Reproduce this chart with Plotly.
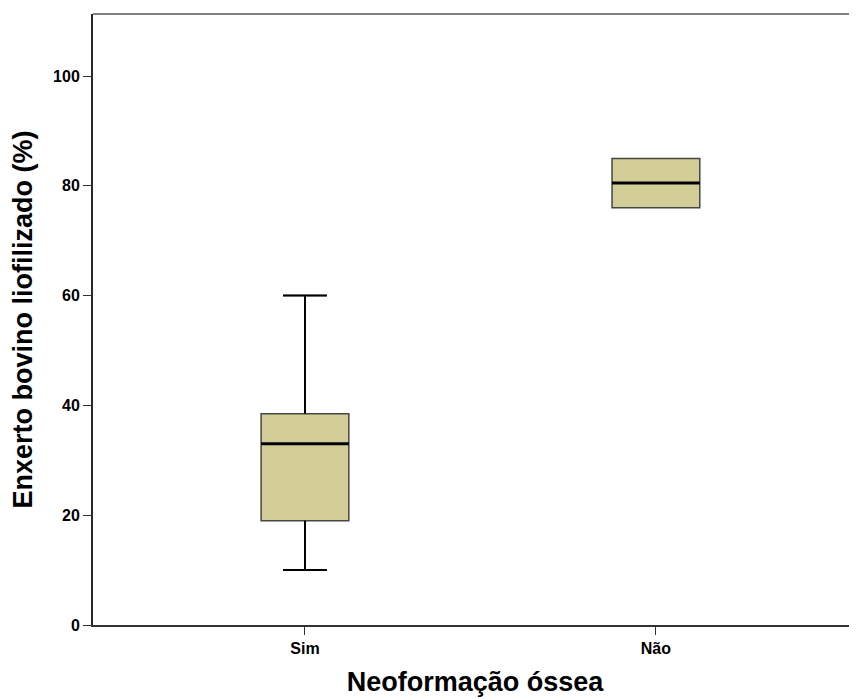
import plotly.graph_objects as go

categories = ["Sim", "Não"]
q1 = [19, 76]
median = [33, 80.5]
q3 = [38.5, 85]
lower = [10, 76]
upper = [60, 85]
y_ticks = [0, 20, 40, 60, 80, 100]

FONT = "Liberation Sans, Arial, sans-serif"
fill = "rgb(211,206,152)"
edge = "rgb(70,70,70)"
box_w = 0.25

xpos = list(range(len(categories)))

fig = go.Figure()
fig.add_trace(go.Box(
    x=xpos, q1=q1, median=median, q3=q3,
    lowerfence=lower, upperfence=upper,
    width=box_w, whiskerwidth=0.5,
    fillcolor=fill, line=dict(color=edge, width=1.5),
    boxpoints=False, showlegend=False, hoverinfo="skip",
))
for i, m in zip(xpos, median):
    fig.add_trace(go.Scatter(
        x=[i - box_w / 2, i + box_w / 2], y=[m, m], mode="lines",
        line=dict(color="black", width=3), showlegend=False, hoverinfo="skip",
    ))
for i, lo, a, b, hi in zip(xpos, lower, q1, q3, upper):
    if hi > b:
        fig.add_trace(go.Scatter(x=[i, i], y=[b, hi], mode="lines",
                                 line=dict(color="black", width=2), showlegend=False, hoverinfo="skip"))
        fig.add_trace(go.Scatter(x=[i - box_w / 4, i + box_w / 4], y=[hi, hi], mode="lines",
                                 line=dict(color="black", width=2), showlegend=False, hoverinfo="skip"))
    if lo < a:
        fig.add_trace(go.Scatter(x=[i, i], y=[lo, a], mode="lines",
                                 line=dict(color="black", width=2), showlegend=False, hoverinfo="skip"))
        fig.add_trace(go.Scatter(x=[i - box_w / 4, i + box_w / 4], y=[lo, lo], mode="lines",
                                 line=dict(color="black", width=2), showlegend=False, hoverinfo="skip"))

fig.update_layout(
    width=849, height=691,
    margin=dict(l=85, r=0, t=6, b=74, autoexpand=False),
    paper_bgcolor="white", plot_bgcolor="white",
    font=dict(family=FONT, color="black"),
    xaxis=dict(
        range=[-0.604, 1.573], tickmode="array", tickvals=xpos, ticktext=categories,
        showgrid=False, zeroline=False, showline=True, linecolor="rgb(50,50,50)", linewidth=1.5,
        ticks="outside", ticklen=8, tickcolor="rgb(50,50,50)", tickwidth=1,
        tickfont=dict(family=FONT, size=16, color="black", weight="bold"),
        title=dict(text="Neoformação óssea", font=dict(family=FONT, size=27, weight="bold"), standoff=16),
        automargin=False,
    ),
    yaxis=dict(
        range=[0, 111.3], tickmode="array", tickvals=y_ticks,
        showgrid=False, zeroline=False, showline=True, linecolor="rgb(40,40,40)", linewidth=2,
        ticks="outside", ticklen=8, tickcolor="rgb(50,50,50)", tickwidth=1,
        tickfont=dict(family=FONT, size=16, color="black", weight="bold"),
        title=dict(text="Enxerto bovino liofilizado (%)", font=dict(family=FONT, size=27, weight="bold"), standoff=15),
        automargin=False,
    ),
    shapes=[dict(type="line", xref="paper", yref="paper", x0=0, x1=1, y0=1, y1=1,
                 line=dict(color="rgb(130,130,130)", width=2))],
)

fig.write_html("out.html")
